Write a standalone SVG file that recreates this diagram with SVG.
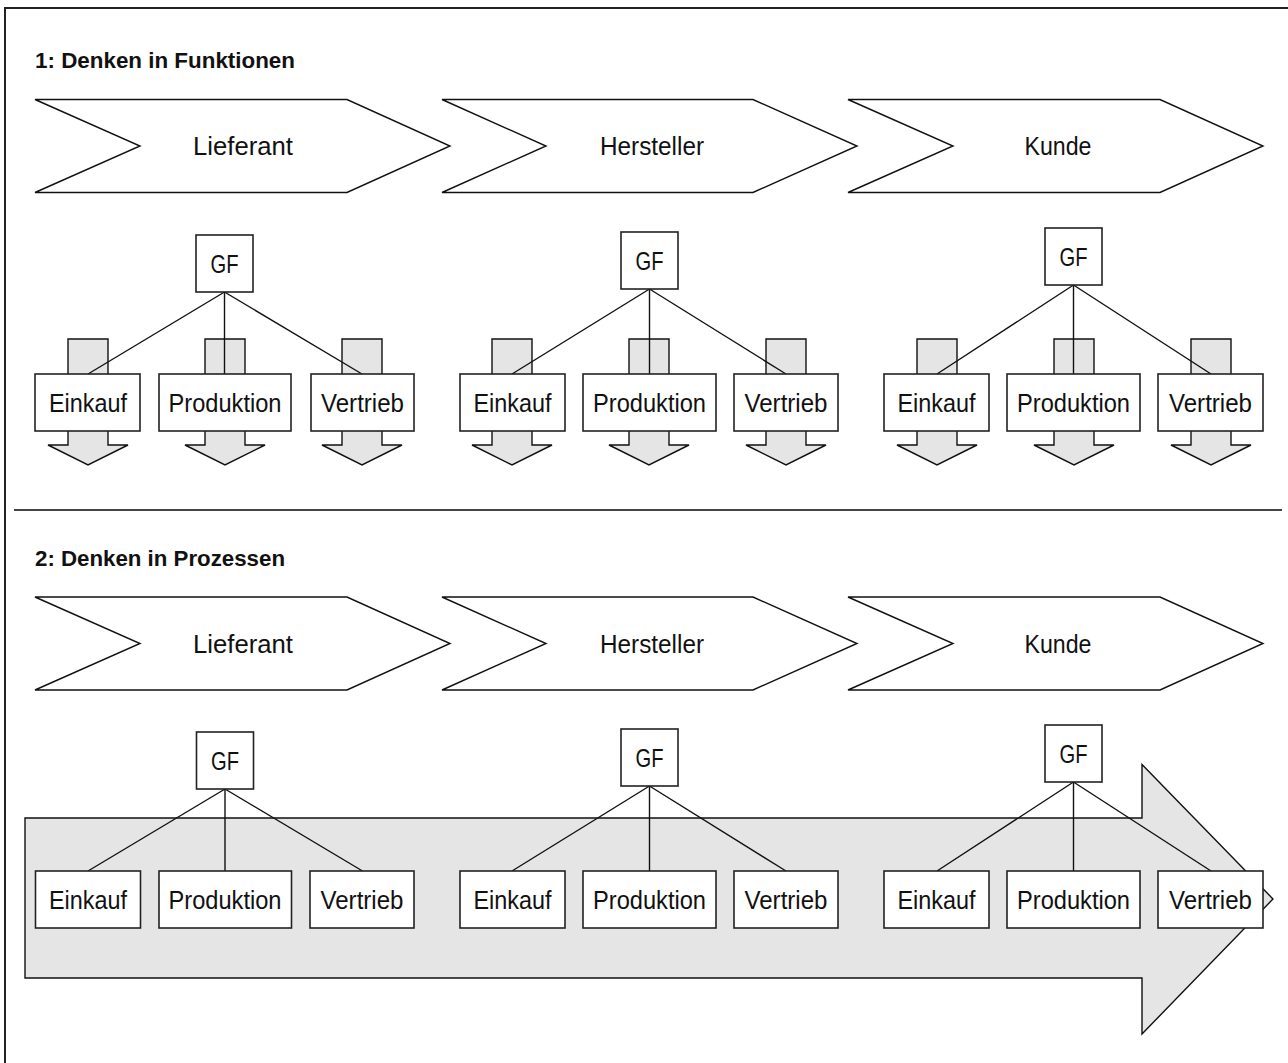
<svg xmlns="http://www.w3.org/2000/svg" width="1288" height="1063" viewBox="0 0 1288 1063">
  <style>
    .frame { fill: none; stroke: #222; stroke-width: 2; }
    .divider { stroke: #444; stroke-width: 2; }
    .head { font-family: "Liberation Sans", Arial, sans-serif; font-weight: bold; font-size: 22px; fill: #111; }
    .chev { fill: #fff; stroke: #111; stroke-width: 1.4; stroke-linejoin: miter; }
    .lbl { font-family: "Liberation Sans", Arial, sans-serif; font-size: 25px; fill: #111; text-anchor: middle; }
    .box { fill: #fff; stroke: #222; stroke-width: 1.6; }
    .flow { fill: #e5e5e5; stroke: #111; stroke-width: 1.4; stroke-linejoin: miter; }
    .link { stroke: #111; stroke-width: 1.4; fill: none; }
  </style>

  <!-- outer frame (open at right and bottom) and section divider -->
  <path class="frame" d="M5,1063 V8 H1288"/>
  <line class="divider" x1="14" y1="510" x2="1282" y2="510"/>

  <!-- ===================== Section 1 ===================== -->
  <text class="head" x="35" y="68" textLength="260" lengthAdjust="spacingAndGlyphs">1: Denken in Funktionen</text>

  <g id="s1-lieferant">
    <path class="chev" d="M35,99.5 H347 L450,146 L347,192.5 H35 L140,146 Z"/>
    <text class="lbl" x="243" y="155" textLength="100" lengthAdjust="spacingAndGlyphs">Lieferant</text>
  </g>
  <g id="s1-hersteller">
    <path class="chev" d="M442,99.5 H753 L857,146 L753,192.5 H442 L546,146 Z"/>
    <text class="lbl" x="652" y="155" textLength="104" lengthAdjust="spacingAndGlyphs">Hersteller</text>
  </g>
  <g id="s1-kunde">
    <path class="chev" d="M848,99.5 H1160 L1263,146 L1160,192.5 H848 L953,146 Z"/>
    <text class="lbl" x="1058" y="155" textLength="67" lengthAdjust="spacingAndGlyphs">Kunde</text>
  </g>

  <!-- grey downward flow arrows behind each function -->
  <g id="s1-flows">
    <path class="flow" d="M68,339 H108 V445 H128 L88,465 L48,445 H68 Z"/>
    <path class="flow" d="M205,339 H245 V445 H265 L225,465 L185,445 H205 Z"/>
    <path class="flow" d="M342,339 H382 V445 H402 L362,465 L322,445 H342 Z"/>
    <path class="flow" d="M492,339 H532 V445 H552 L512,465 L472,445 H492 Z"/>
    <path class="flow" d="M629,339 H669 V445 H689 L649,465 L609,445 H629 Z"/>
    <path class="flow" d="M766,339 H806 V445 H826 L786,465 L746,445 H766 Z"/>
    <path class="flow" d="M917,339 H957 V445 H977 L937,465 L897,445 H917 Z"/>
    <path class="flow" d="M1054,339 H1094 V445 H1114 L1074,465 L1034,445 H1054 Z"/>
    <path class="flow" d="M1191,339 H1231 V445 H1251 L1211,465 L1171,445 H1191 Z"/>
  </g>

  <!-- ===================== Section 2 ===================== -->
  <text class="head" x="35" y="566" textLength="250" lengthAdjust="spacingAndGlyphs">2: Denken in Prozessen</text>

  <g id="s2-lieferant">
    <path class="chev" d="M35,597 H347 L450,643.5 L347,690 H35 L140,643.5 Z"/>
    <text class="lbl" x="243" y="652.5" textLength="100" lengthAdjust="spacingAndGlyphs">Lieferant</text>
  </g>
  <g id="s2-hersteller">
    <path class="chev" d="M442,597 H753 L857,643.5 L753,690 H442 L546,643.5 Z"/>
    <text class="lbl" x="652" y="652.5" textLength="104" lengthAdjust="spacingAndGlyphs">Hersteller</text>
  </g>
  <g id="s2-kunde">
    <path class="chev" d="M848,597 H1160 L1263,643.5 L1160,690 H848 L953,643.5 Z"/>
    <text class="lbl" x="1058" y="652.5" textLength="67" lengthAdjust="spacingAndGlyphs">Kunde</text>
  </g>

  <!-- one continuous process arrow across all companies -->
  <g id="s2-process">
    <path class="flow" d="M25,818 H1142 V764.5 L1273,899 L1142,1034 V978 H25 Z"/>
  </g>

  <!-- reporting lines -->
  <g id="connectors">
    <line class="link" x1="224.5" y1="292" x2="88" y2="374"/>
    <line class="link" x1="224.5" y1="292" x2="224.5" y2="374"/>
    <line class="link" x1="224.5" y1="292" x2="362" y2="374"/>
    <line class="link" x1="649.5" y1="289" x2="512" y2="374"/>
    <line class="link" x1="649.5" y1="289" x2="649.5" y2="374"/>
    <line class="link" x1="649.5" y1="289" x2="786" y2="374"/>
    <line class="link" x1="1073.5" y1="285" x2="937" y2="374"/>
    <line class="link" x1="1073.5" y1="285" x2="1073.5" y2="374"/>
    <line class="link" x1="1073.5" y1="285" x2="1211" y2="374"/>

    <line class="link" x1="225" y1="789" x2="88" y2="871"/>
    <line class="link" x1="225" y1="789" x2="225" y2="871"/>
    <line class="link" x1="225" y1="789" x2="362.5" y2="871"/>
    <line class="link" x1="649.5" y1="786" x2="512" y2="871"/>
    <line class="link" x1="649.5" y1="786" x2="649.5" y2="871"/>
    <line class="link" x1="649.5" y1="786" x2="786" y2="871"/>
    <line class="link" x1="1073.5" y1="782" x2="937" y2="871"/>
    <line class="link" x1="1073.5" y1="782" x2="1073.5" y2="871"/>
    <line class="link" x1="1073.5" y1="782" x2="1211" y2="871"/>
  </g>

  <!-- Section 1 organisation units -->
  <g id="s1-g1-gf"><rect class="box" x="196" y="235" width="57" height="57"/><text class="lbl" x="224.5" y="272.5" textLength="28" lengthAdjust="spacingAndGlyphs">GF</text></g>
  <g id="s1-g1-einkauf"><rect class="box" x="35" y="374" width="105" height="57"/><text class="lbl" x="88" y="412" textLength="78" lengthAdjust="spacingAndGlyphs">Einkauf</text></g>
  <g id="s1-g1-produktion"><rect class="box" x="159" y="374" width="132" height="57"/><text class="lbl" x="225" y="412" textLength="113" lengthAdjust="spacingAndGlyphs">Produktion</text></g>
  <g id="s1-g1-vertrieb"><rect class="box" x="311" y="374" width="103" height="57"/><text class="lbl" x="362.5" y="412" textLength="83" lengthAdjust="spacingAndGlyphs">Vertrieb</text></g>

  <g id="s1-g2-gf"><rect class="box" x="621" y="232" width="57" height="57"/><text class="lbl" x="649.5" y="269.5" textLength="28" lengthAdjust="spacingAndGlyphs">GF</text></g>
  <g id="s1-g2-einkauf"><rect class="box" x="460" y="374" width="105" height="57"/><text class="lbl" x="512.5" y="412" textLength="78" lengthAdjust="spacingAndGlyphs">Einkauf</text></g>
  <g id="s1-g2-produktion"><rect class="box" x="583" y="374" width="133" height="57"/><text class="lbl" x="649.5" y="412" textLength="113" lengthAdjust="spacingAndGlyphs">Produktion</text></g>
  <g id="s1-g2-vertrieb"><rect class="box" x="734" y="374" width="104" height="57"/><text class="lbl" x="786" y="412" textLength="83" lengthAdjust="spacingAndGlyphs">Vertrieb</text></g>

  <g id="s1-g3-gf"><rect class="box" x="1045" y="228" width="57" height="57"/><text class="lbl" x="1073.5" y="265.5" textLength="28" lengthAdjust="spacingAndGlyphs">GF</text></g>
  <g id="s1-g3-einkauf"><rect class="box" x="884" y="374" width="105" height="57"/><text class="lbl" x="936.5" y="412" textLength="78" lengthAdjust="spacingAndGlyphs">Einkauf</text></g>
  <g id="s1-g3-produktion"><rect class="box" x="1007" y="374" width="133" height="57"/><text class="lbl" x="1073.5" y="412" textLength="113" lengthAdjust="spacingAndGlyphs">Produktion</text></g>
  <g id="s1-g3-vertrieb"><rect class="box" x="1158" y="374" width="105" height="57"/><text class="lbl" x="1210.5" y="412" textLength="83" lengthAdjust="spacingAndGlyphs">Vertrieb</text></g>

  <!-- Section 2 organisation units -->
  <g id="s2-g1-gf"><rect class="box" x="196.5" y="732" width="57" height="57"/><text class="lbl" x="225" y="769.5" textLength="28" lengthAdjust="spacingAndGlyphs">GF</text></g>
  <g id="s2-g1-einkauf"><rect class="box" x="35.5" y="871" width="105" height="57"/><text class="lbl" x="88" y="909" textLength="78" lengthAdjust="spacingAndGlyphs">Einkauf</text></g>
  <g id="s2-g1-produktion"><rect class="box" x="159" y="871" width="132.5" height="57"/><text class="lbl" x="225" y="909" textLength="113" lengthAdjust="spacingAndGlyphs">Produktion</text></g>
  <g id="s2-g1-vertrieb"><rect class="box" x="310" y="871" width="104" height="57"/><text class="lbl" x="362" y="909" textLength="83" lengthAdjust="spacingAndGlyphs">Vertrieb</text></g>

  <g id="s2-g2-gf"><rect class="box" x="621" y="729" width="57" height="57"/><text class="lbl" x="649.5" y="766.5" textLength="28" lengthAdjust="spacingAndGlyphs">GF</text></g>
  <g id="s2-g2-einkauf"><rect class="box" x="460" y="871" width="105" height="57"/><text class="lbl" x="512.5" y="909" textLength="78" lengthAdjust="spacingAndGlyphs">Einkauf</text></g>
  <g id="s2-g2-produktion"><rect class="box" x="583" y="871" width="133" height="57"/><text class="lbl" x="649.5" y="909" textLength="113" lengthAdjust="spacingAndGlyphs">Produktion</text></g>
  <g id="s2-g2-vertrieb"><rect class="box" x="734" y="871" width="104" height="57"/><text class="lbl" x="786" y="909" textLength="83" lengthAdjust="spacingAndGlyphs">Vertrieb</text></g>

  <g id="s2-g3-gf"><rect class="box" x="1045" y="725" width="57" height="57"/><text class="lbl" x="1073.5" y="762.5" textLength="28" lengthAdjust="spacingAndGlyphs">GF</text></g>
  <g id="s2-g3-einkauf"><rect class="box" x="884" y="871" width="105" height="57"/><text class="lbl" x="936.5" y="909" textLength="78" lengthAdjust="spacingAndGlyphs">Einkauf</text></g>
  <g id="s2-g3-produktion"><rect class="box" x="1007" y="871" width="133" height="57"/><text class="lbl" x="1073.5" y="909" textLength="113" lengthAdjust="spacingAndGlyphs">Produktion</text></g>
  <g id="s2-g3-vertrieb"><rect class="box" x="1158" y="871" width="105" height="57"/><text class="lbl" x="1210.5" y="909" textLength="83" lengthAdjust="spacingAndGlyphs">Vertrieb</text></g>
</svg>
